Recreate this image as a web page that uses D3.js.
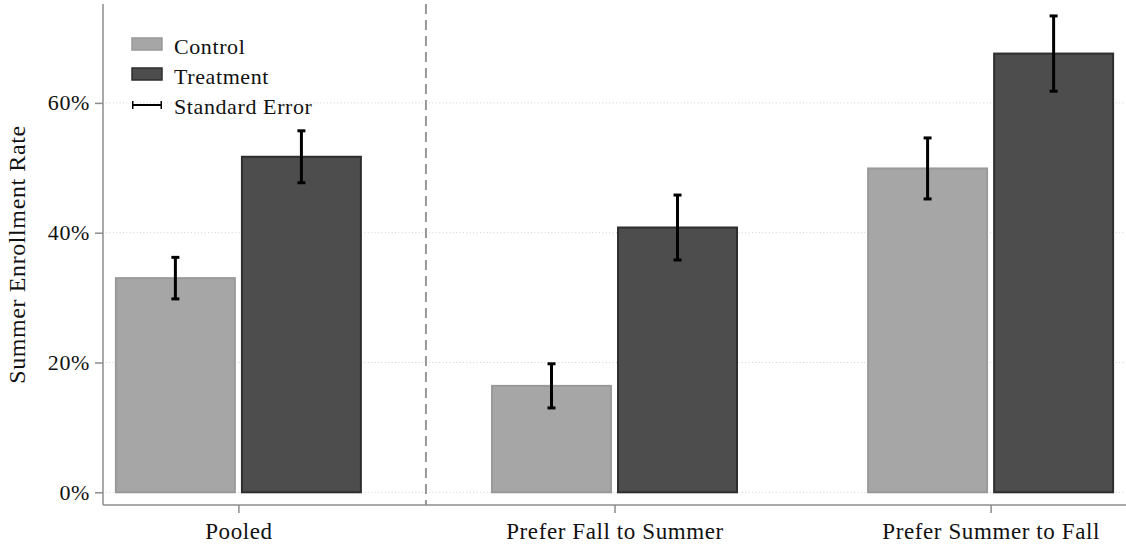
<!DOCTYPE html>
<html>
<head>
<meta charset="utf-8">
<script src="https://cdn.jsdelivr.net/npm/d3@7"></script>
<style>
  body { margin: 0; background: #fff; }
  svg text { font-family: "Liberation Serif", "DejaVu Serif", serif; font-size: 22px; fill: #111; letter-spacing: 0.6px; }
</style>
</head>
<body>
<div id="chart"></div>
<script>
// data
const categories = ["Pooled", "Prefer Fall to Summer", "Prefer Summer to Fall"];
const groups = ["Control", "Treatment"];
const controlMeans = [0.330, 0.164, 0.499];
const controlSE = [0.032, 0.034, 0.047];
const treatmentMeans = [0.517, 0.408, 0.676];
const treatmentSE = [0.040, 0.050, 0.058];
const yTicks = [0, 0.2, 0.4, 0.6];
const legendLabels = ["Control", "Treatment", "Standard Error"];

const width = 1126, height = 547;
const plot = { left: 103, right: 1126, top: 4, bottom: 505 };
const fills = { Control: "#a6a6a6", Treatment: "#4d4d4d" };
const strokes = { Control: "#999999", Treatment: "#2e2e2e" };

const rows = [];
categories.forEach((c, i) => {
  rows.push({ cat: c, group: "Control", mean: controlMeans[i], se: controlSE[i] });
  rows.push({ cat: c, group: "Treatment", mean: treatmentMeans[i], se: treatmentSE[i] });
});

const svg = d3.select("#chart").append("svg")
  .attr("width", width)
  .attr("height", height);

const x = d3.scalePoint()
  .domain(categories)
  .range([plot.left, plot.right])
  .padding(0.36);

const xInner = d3.scaleBand()
  .domain(groups)
  .range([-122.5, 122.5])
  .paddingInner(0.056);

const y = d3.scaleLinear()
  .domain([0, 0.6])
  .range([492.3, 102.9]);

// gridlines
svg.append("g")
  .selectAll("line")
  .data(yTicks)
  .enter()
  .append("line")
  .attr("x1", plot.left + 3)
  .attr("x2", plot.right)
  .attr("y1", d => y(d))
  .attr("y2", d => y(d))
  .attr("stroke", "#d0d0d0")
  .attr("stroke-width", 1)
  .attr("stroke-dasharray", "1,2.4");

// dashed separator between pooled and subgroups
const sepX = (x(categories[0]) + x(categories[1])) / 2 - 0.5;
svg.append("line")
  .attr("x1", sepX).attr("x2", sepX)
  .attr("y1", plot.top).attr("y2", plot.bottom)
  .attr("stroke", "#999")
  .attr("stroke-width", 2)
  .attr("stroke-dasharray", "10,6");

// bars
svg.append("g")
  .selectAll("rect")
  .data(rows)
  .enter()
  .append("rect")
  .attr("x", d => x(d.cat) + xInner(d.group))
  .attr("y", d => y(d.mean))
  .attr("width", xInner.bandwidth())
  .attr("height", d => y(0) - y(d.mean))
  .attr("fill", d => fills[d.group])
  .attr("stroke", d => strokes[d.group])
  .attr("stroke-width", 2);

// error bars
const eb = svg.append("g")
  .selectAll("g")
  .data(rows)
  .enter()
  .append("g")
  .attr("transform", d => `translate(${x(d.cat) + xInner(d.group) + xInner.bandwidth() / 2},0)`);
eb.append("line")
  .attr("y1", d => y(d.mean + d.se))
  .attr("y2", d => y(d.mean - d.se))
  .attr("stroke", "#000")
  .attr("stroke-width", 3);
eb.append("line")
  .attr("x1", -4).attr("x2", 4)
  .attr("y1", d => y(d.mean + d.se))
  .attr("y2", d => y(d.mean + d.se))
  .attr("stroke", "#000")
  .attr("stroke-width", 3);
eb.append("line")
  .attr("x1", -4).attr("x2", 4)
  .attr("y1", d => y(d.mean - d.se))
  .attr("y2", d => y(d.mean - d.se))
  .attr("stroke", "#000")
  .attr("stroke-width", 3);

// axes lines
svg.append("line")
  .attr("x1", plot.left).attr("x2", plot.left)
  .attr("y1", plot.top).attr("y2", plot.bottom)
  .attr("stroke", "#8c8c8c").attr("stroke-width", 1.5);
svg.append("line")
  .attr("x1", plot.left).attr("x2", plot.right)
  .attr("y1", plot.bottom).attr("y2", plot.bottom)
  .attr("stroke", "#8c8c8c").attr("stroke-width", 1.5);

// y axis ticks
const yAxis = svg.append("g")
  .attr("transform", `translate(${plot.left},0)`)
  .call(d3.axisLeft(y).tickValues(yTicks).tickFormat(d3.format(".0%")).tickSize(8).tickPadding(5));
yAxis.select(".domain").remove();
yAxis.selectAll(".tick line").attr("stroke", "#8c8c8c").attr("stroke-width", 1.5);
yAxis.selectAll(".tick text").attr("font-family", null).attr("font-size", null).attr("fill", "#111");

// x axis ticks
const xAxis = svg.append("g")
  .attr("transform", `translate(0,${plot.bottom})`)
  .call(d3.axisBottom(x).tickSize(8).tickPadding(10));
xAxis.select(".domain").remove();
xAxis.selectAll(".tick line").attr("stroke", "#8c8c8c").attr("stroke-width", 1.5);
xAxis.selectAll(".tick text").attr("font-family", null).attr("font-size", null).attr("fill", "#111")
  .style("font-size", "23px");

// y label
svg.append("text")
  .attr("transform", `translate(25,${(plot.top + plot.bottom) / 2}) rotate(-90)`)
  .attr("text-anchor", "middle")
  .style("font-size", "24px")
  .text("Summer Enrollment Rate");

// legend
const legend = svg.append("g").attr("transform", "translate(132,38)");
legendLabels.forEach((label, i) => {
  const g = legend.append("g").attr("transform", `translate(0,${i * 30})`);
  if (i < 2) {
    g.append("rect")
      .attr("x", 0).attr("y", 0)
      .attr("width", 30).attr("height", 12)
      .attr("fill", fills[groups[i]])
      .attr("stroke", strokes[groups[i]])
      .attr("stroke-width", 1.5);
  } else {
    g.append("line").attr("x1", 0).attr("x2", 30).attr("y1", 7).attr("y2", 7)
      .attr("stroke", "#000").attr("stroke-width", 2);
    g.append("line").attr("x1", 0.75).attr("x2", 0.75).attr("y1", 3).attr("y2", 11)
      .attr("stroke", "#000").attr("stroke-width", 1.5);
    g.append("line").attr("x1", 29.25).attr("x2", 29.25).attr("y1", 3).attr("y2", 11)
      .attr("stroke", "#000").attr("stroke-width", 1.5);
  }
  g.append("text")
    .attr("x", 42)
    .attr("y", 16)
    .text(label);
});
</script>
</body>
</html>
